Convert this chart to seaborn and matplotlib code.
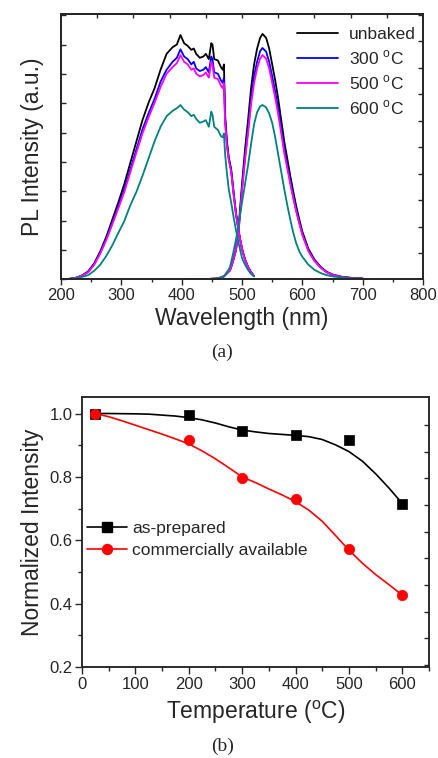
import numpy as np
import pandas as pd
import seaborn as sns
import matplotlib
matplotlib.use("Agg")
import matplotlib.pyplot as plt
from matplotlib.lines import Line2D
from matplotlib.ticker import MultipleLocator, FixedLocator, NullFormatter

# ---- (a) PL spectra: excitation band (200-520 nm) and emission band (415-700 nm)
wl_ex = [200, 215, 225, 235, 245, 255, 265, 275, 285, 295, 305, 315, 325, 335, 345,
         355, 365, 375, 385, 392, 398, 404, 410, 416, 420, 424, 430, 436, 440, 445,
         449, 451, 454, 460, 465, 468, 470, 472, 475, 478, 482, 486, 490, 495, 500,
         505, 510, 515, 520]
ex_unbaked = [0.0, 0.002, 0.006, 0.015, 0.03, 0.06, 0.105, 0.16, 0.225, 0.29, 0.36, 0.44, 0.52, 0.6, 0.665,
              0.72, 0.79, 0.85, 0.875, 0.885, 0.921, 0.89, 0.88, 0.865, 0.87, 0.85, 0.835, 0.84, 0.85, 0.83,
              0.89, 0.885, 0.83, 0.825, 0.80, 0.79, 0.81, 0.62, 0.52, 0.46, 0.415, 0.33, 0.25, 0.175, 0.115,
              0.075, 0.047, 0.027, 0.012]
ex_300 = [0.0, 0.002, 0.006, 0.014, 0.028, 0.057, 0.1, 0.152, 0.213, 0.275, 0.34, 0.415, 0.49, 0.565, 0.625,
          0.68, 0.745, 0.79, 0.82, 0.835, 0.867, 0.84, 0.83, 0.81, 0.82, 0.795, 0.785, 0.79, 0.8, 0.78,
          0.84, 0.83, 0.78, 0.775, 0.75, 0.74, 0.76, 0.60, 0.51, 0.455, 0.41, 0.325, 0.247, 0.173, 0.114,
          0.074, 0.046, 0.027, 0.012]
ex_500 = [0.0, 0.002, 0.006, 0.014, 0.027, 0.055, 0.097, 0.148, 0.207, 0.268, 0.33, 0.405, 0.478, 0.55, 0.61,
          0.665, 0.725, 0.775, 0.80, 0.815, 0.845, 0.82, 0.81, 0.79, 0.795, 0.775, 0.765, 0.77, 0.78, 0.76,
          0.82, 0.81, 0.76, 0.755, 0.73, 0.72, 0.74, 0.59, 0.50, 0.45, 0.405, 0.32, 0.245, 0.172, 0.113,
          0.073, 0.046, 0.026, 0.012]
ex_600 = [0.0, 0.002, 0.004, 0.009, 0.016, 0.032, 0.055, 0.088, 0.128, 0.175, 0.22, 0.28, 0.33, 0.39, 0.455,
          0.52, 0.575, 0.615, 0.635, 0.645, 0.657, 0.64, 0.63, 0.615, 0.62, 0.605, 0.59, 0.595, 0.6, 0.575,
          0.632, 0.62, 0.575, 0.563, 0.54, 0.535, 0.55, 0.47, 0.40, 0.34, 0.29, 0.235, 0.185, 0.13, 0.08,
          0.055, 0.035, 0.02, 0.011]

wl_em = [415, 440, 460, 470, 480, 485, 490, 495, 500, 505, 510, 515, 520, 525, 530, 534, 540, 545, 550,
         555, 560, 565, 570, 575, 580, 585, 590, 595, 600, 610, 620, 630, 640, 650, 665, 680, 700]
em_unbaked = [0.0, 0.001, 0.003, 0.012, 0.035, 0.07, 0.115, 0.215, 0.36, 0.49, 0.60, 0.72, 0.81, 0.87, 0.91,
              0.925, 0.91, 0.87, 0.81, 0.75, 0.68, 0.60, 0.52, 0.455, 0.39, 0.33, 0.274, 0.225, 0.18, 0.115,
              0.075, 0.048, 0.029, 0.018, 0.01, 0.006, 0.003]
em_300 = [0.0, 0.001, 0.003, 0.011, 0.033, 0.066, 0.11, 0.2, 0.34, 0.46, 0.565, 0.68, 0.765, 0.82, 0.86,
          0.872, 0.858, 0.82, 0.765, 0.707, 0.642, 0.566, 0.49, 0.43, 0.368, 0.31, 0.258, 0.212, 0.17, 0.108,
          0.07, 0.045, 0.027, 0.017, 0.009, 0.005, 0.003]
em_500 = [0.0, 0.001, 0.003, 0.012, 0.034, 0.068, 0.11, 0.2, 0.335, 0.45, 0.55, 0.66, 0.74, 0.795, 0.832,
          0.845, 0.832, 0.795, 0.74, 0.685, 0.622, 0.55, 0.477, 0.418, 0.36, 0.305, 0.255, 0.21, 0.168, 0.107,
          0.07, 0.045, 0.027, 0.017, 0.009, 0.005, 0.003]
em_600 = [0.0, 0.001, 0.003, 0.01, 0.045, 0.095, 0.15, 0.215, 0.29, 0.36, 0.43, 0.51, 0.585, 0.63, 0.652,
          0.657, 0.648, 0.625, 0.59, 0.535, 0.47, 0.405, 0.34, 0.28, 0.225, 0.175, 0.135, 0.105, 0.085, 0.055,
          0.036, 0.024, 0.016, 0.011, 0.007, 0.004, 0.002]

spectra_labels = ["unbaked", "300 $^{\\mathrm{o}}$C", "500 $^{\\mathrm{o}}$C", "600 $^{\\mathrm{o}}$C"]
spectra_colors = ["#000000", "#0000ff", "#ff00ff", "#008080"]

# ---- (b) normalized intensity vs temperature
temps = [25, 200, 300, 400, 500, 600]
as_prepared = [1.0, 0.995, 0.946, 0.933, 0.915, 0.716]
commercial = [1.0, 0.916, 0.796, 0.731, 0.572, 0.428]
# smooth guide curves
fit_temps = [25, 50, 75, 100, 125, 150, 175, 200, 225, 250, 275, 300, 325, 350,
             375, 400, 425, 450, 475, 500, 525, 550, 575, 600]
as_prepared_fit = [1.0, 1.0, 0.9995, 0.999, 0.998, 0.995, 0.992, 0.987, 0.98, 0.97, 0.958, 0.948, 0.942, 0.937,
                   0.934, 0.931, 0.927, 0.918, 0.901, 0.88, 0.85, 0.81, 0.765, 0.716]
commercial_fit = [1.0, 0.99, 0.977, 0.963, 0.949, 0.935, 0.92, 0.904, 0.882, 0.857, 0.829, 0.80, 0.782, 0.762,
                  0.743, 0.722, 0.695, 0.66, 0.615, 0.569, 0.528, 0.492, 0.46, 0.427]

sns.set_style("ticks")
plt.rcParams["font.family"] = ["Liberation Sans", "DejaVu Sans"]
plt.rcParams["mathtext.fontset"] = "custom"
plt.rcParams["mathtext.rm"] = "Liberation Sans"
plt.rcParams["axes.linewidth"] = 1.1

fig = plt.figure(figsize=(4.38, 7.58), dpi=100)
ax1 = fig.add_axes([0.1393, 0.6315, 0.8265, 0.35])
ax2 = fig.add_axes([0.1872, 0.12, 0.7922, 0.3562])

# panel (a)
ex_series = [ex_unbaked, ex_300, ex_500, ex_600]
em_series = [em_unbaked, em_300, em_500, em_600]
for lab, col, ex, em in zip(spectra_labels, spectra_colors, ex_series, em_series):
    sns.lineplot(x=wl_ex, y=ex, ax=ax1, color=col, lw=1.3, sort=False, estimator=None)
    sns.lineplot(x=wl_em, y=em, ax=ax1, color=col, lw=1.3, sort=False, estimator=None)

ax1.set_xlim(200, 800)
ax1.set_ylim(0, 1.0)
ax1.xaxis.set_major_locator(MultipleLocator(100))
ax1.xaxis.set_minor_locator(MultipleLocator(50))
ax1.yaxis.set_major_locator(FixedLocator(np.arange(0, 1.0, 1 / 9.05)))
ax1.yaxis.set_major_formatter(NullFormatter())
ax1.tick_params(axis="x", which="major", direction="out", length=4, width=1, labelsize=12, pad=2)
ax1.tick_params(axis="x", which="minor", direction="out", length=2.5, width=1)
ax1.tick_params(axis="y", which="major", direction="in", length=3.5, width=1)
ax1.set_xlabel("Wavelength (nm)", fontsize=16.5, labelpad=3)
ax1.set_ylabel("PL Intensity (a.u.)", fontsize=16.5, labelpad=9)

tw1 = ax1.twinx()
tw1.set_ylim(0, 1.0)
tw1.yaxis.set_major_locator(FixedLocator(np.arange(0.098, 1.0, 0.1)))
tw1.yaxis.set_major_formatter(NullFormatter())
tw1.tick_params(axis="y", direction="in", length=3.5, width=1)
ty1 = ax1.twiny()
ty1.set_xlim(200, 800)
ty1.xaxis.set_major_locator(FixedLocator([260, 320, 380, 440, 500, 560, 620, 680, 740]))
ty1.xaxis.set_major_formatter(NullFormatter())
ty1.tick_params(axis="x", direction="in", length=3, width=1)

handles1 = [Line2D([], [], color=c, lw=1.3) for c in spectra_colors]
ax1.legend(handles1, spectra_labels, loc="upper left", bbox_to_anchor=(0.652, 0.95),
           frameon=False, fontsize=12.5, handlelength=2.36, handletextpad=0.63,
           labelspacing=0.36, borderpad=0, borderaxespad=0)

# panel (b)
sns.lineplot(x=fit_temps, y=as_prepared_fit, ax=ax2, color="black", lw=1.2, sort=False, estimator=None)
sns.lineplot(x=fit_temps, y=commercial_fit, ax=ax2, color="red", lw=1.2, sort=False, estimator=None)
sns.scatterplot(x=temps, y=as_prepared, ax=ax2, color="black", marker="s", s=46, edgecolor="black", linewidth=0.5, zorder=3)
sns.scatterplot(x=temps, y=commercial, ax=ax2, color="red", marker="o", s=56, edgecolor="red", linewidth=0.5, zorder=3)

ax2.set_xlim(0, 650)
ax2.set_ylim(0.2, 1.052)
ax2.xaxis.set_major_locator(MultipleLocator(100))
ax2.xaxis.set_minor_locator(MultipleLocator(50))
ax2.yaxis.set_major_locator(MultipleLocator(0.2))
ax2.yaxis.set_minor_locator(MultipleLocator(0.1))
ax2.yaxis.set_major_formatter(plt.FuncFormatter(lambda v, p: f"{v:.1f}"))
ax2.tick_params(which="major", direction="out", length=5, width=1, labelsize=12, pad=2)
ax2.tick_params(which="minor", direction="out", length=3, width=1)
ax2.set_xlabel("Temperature ($^{\\mathrm{o}}$C)", fontsize=16.5, labelpad=5)
ax2.set_ylabel("Normalized Intensity", fontsize=16.5, labelpad=4)

tw2 = ax2.twinx()
tw2.set_ylim(0.2, 1.052)
tw2.yaxis.set_major_locator(FixedLocator(np.arange(0.964, 0.2, -0.0842)))
tw2.yaxis.set_major_formatter(NullFormatter())
tw2.tick_params(axis="y", direction="in", length=3.5, width=1)

handles2 = [Line2D([], [], color="black", lw=1.2, marker="s", markersize=6.5),
            Line2D([], [], color="red", lw=1.2, marker="o", markersize=7.2)]
ax2.legend(handles2, ["as-prepared", "commercially available"], loc="upper left",
           bbox_to_anchor=(0.0144, 0.54), frameon=False, fontsize=12.5, handlelength=2.3,
           handletextpad=0.3, labelspacing=0.36, borderpad=0, borderaxespad=0)

fig.text(0.507, 1 - 352 / 758, "(a)", family="Liberation Serif", fontsize=14, ha="center", va="center")
fig.text(0.508, 1 - 746 / 758, "(b)", family="Liberation Serif", fontsize=14, ha="center", va="center")

fig.savefig("out.png", dpi=100)
